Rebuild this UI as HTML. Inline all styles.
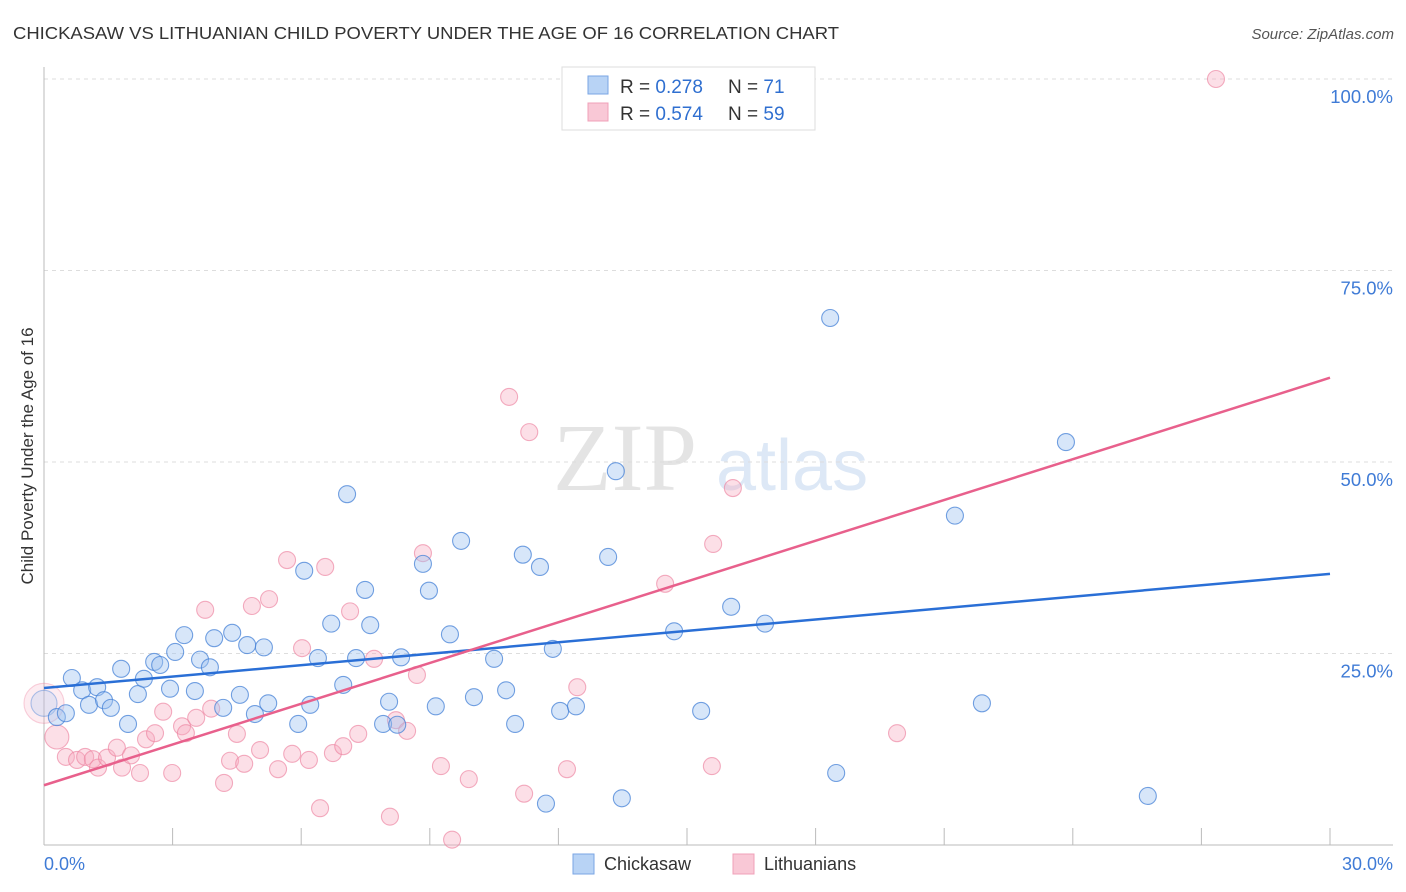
<!DOCTYPE html>
<html><head><meta charset="utf-8"><style>
body{margin:0;background:#fff;font-family:"Liberation Sans",sans-serif;}
svg{display:block}
</style></head><body>
<svg id="chart" width="1406" height="892" xmlns="http://www.w3.org/2000/svg" font-family="Liberation Sans, sans-serif">
<text x="13" y="39" font-size="17.5" fill="#333" textLength="826" lengthAdjust="spacingAndGlyphs">CHICKASAW VS LITHUANIAN CHILD POVERTY UNDER THE AGE OF 16 CORRELATION CHART</text>
<text x="1394" y="39" font-size="15" fill="#555" font-style="italic" text-anchor="end">Source: ZipAtlas.com</text>
<text x="553" y="490" font-size="96" font-family="Liberation Serif, serif" fill="#e4e4e4">ZIP</text>
<text x="716" y="490" font-size="72" fill="#dde8f6">atlas</text>
<text transform="translate(33,456) rotate(-90)" font-size="17" fill="#333" text-anchor="middle">Child Poverty Under the Age of 16</text>
<g id="grid"></g>
<g id="axes"></g>
<g id="pts"></g>
<g id="trends"></g>
<g>
<rect x="562" y="67" width="253" height="63" fill="#fff" stroke="#ddd"/>
<rect x="588" y="76" width="20" height="18" fill="#b8d3f5" stroke="#7aa6e4"/>
<rect x="588" y="103" width="20" height="18" fill="#f9c8d6" stroke="#f0a0b8"/>
<text x="620" y="93" font-size="19" fill="#333">R = <tspan fill="#2f6fd0">0.278</tspan></text>
<text x="728" y="93" font-size="19" fill="#333">N = <tspan fill="#2f6fd0"> 71</tspan></text>
<text x="620" y="120" font-size="19" fill="#333">R = <tspan fill="#2f6fd0">0.574</tspan></text>
<text x="728" y="120" font-size="19" fill="#333">N = <tspan fill="#2f6fd0">59</tspan></text>
</g>
<g>
<rect x="573" y="854" width="21" height="20" fill="#b8d3f5" stroke="#7aa6e4"/>
<text x="604" y="870" font-size="18" fill="#333">Chickasaw</text>
<rect x="733" y="854" width="21" height="20" fill="#f9c8d6" stroke="#f0a0b8"/>
<text x="764" y="870" font-size="18" fill="#333">Lithuanians</text>
</g>
</svg>
<script>
const yTicks=[25,50,75,100];
const yTickLabels=["25.0%","50.0%","75.0%","100.0%"];
const xTickCount=10;
const blueX=[0.0,0.30,0.51,0.65,0.89,1.05,1.24,1.40,1.56,1.80,1.96,2.19,2.33,2.57,2.71,2.94,3.06,3.27,3.52,3.64,3.87,3.97,4.18,4.39,4.57,4.74,4.92,5.13,5.23,5.93,6.07,6.21,6.39,6.70,6.98,7.07,7.28,7.49,7.61,7.91,8.05,8.24,8.33,8.84,8.98,9.14,9.47,9.73,10.03,10.50,10.78,10.99,11.17,11.57,11.71,11.87,12.04,12.41,13.16,13.34,13.48,14.70,15.33,16.03,16.82,18.34,18.48,21.25,21.88,23.84,25.75];
const blueY=[18.5,16.7,17.2,21.8,20.2,18.3,20.6,18.9,17.9,23.0,15.8,19.7,21.7,23.9,23.5,20.4,25.2,27.4,20.1,24.2,23.2,27.0,17.9,27.7,19.6,26.1,17.1,25.8,18.5,15.8,35.8,18.3,24.4,28.9,20.9,45.8,24.4,33.3,28.7,15.8,18.7,15.7,24.5,36.7,33.2,18.1,27.5,39.7,19.3,24.3,20.2,15.8,37.9,36.3,5.4,25.6,17.5,18.1,37.6,48.8,6.1,27.9,17.5,31.1,28.9,68.8,9.4,43.0,18.5,52.6,6.4];
const pinkX=[0,0.30,0.51,0.77,0.96,1.14,1.26,1.47,1.70,1.82,2.03,2.24,2.38,2.59,2.78,2.99,3.22,3.31,3.55,3.76,3.90,4.20,4.34,4.50,4.67,4.85,5.04,5.25,5.46,5.67,5.79,6.02,6.18,6.44,6.56,6.74,6.98,7.14,7.33,7.70,8.07,8.21,8.47,8.70,8.84,9.26,9.52,9.91,10.85,11.20,11.32,12.20,12.44,14.49,15.58,15.61,16.07,19.90,27.34];
const pinkY=[18.5,14.1,11.5,11.1,11.5,11.2,10.1,11.4,12.7,10.1,11.7,9.4,13.8,14.6,17.4,9.4,15.5,14.6,16.6,30.7,17.8,8.1,11.0,14.5,10.6,31.2,12.4,32.1,9.9,37.2,11.9,25.7,11.1,4.8,36.3,12.0,12.9,30.5,14.5,24.3,3.7,16.3,14.9,22.2,38.1,10.3,0.7,8.6,58.5,6.7,53.9,9.9,20.6,34.1,10.3,39.3,46.6,14.6,100];
const blueTrend=[20.5,35.4];
const pinkTrend=[7.8,61.0];
const xMax=30;
const X0=44,X1=1330,Y0=845,Y100=79;
const sx=v=>X0+(v/xMax)*(X1-X0);
const sy=v=>Y0-(v/100)*(Y0-Y100);
const NS="http://www.w3.org/2000/svg";
function mk(tag,attrs,parent){const e=document.createElementNS(NS,tag);for(const k in attrs)e.setAttribute(k,attrs[k]);parent.appendChild(e);return e;}
const grid=document.getElementById('grid'),axes=document.getElementById('axes'),pts=document.getElementById('pts'),tr=document.getElementById('trends');
yTicks.forEach((t,i)=>{
 const l=mk('line',{x1:X0,x2:1393,y1:sy(t),y2:sy(t),stroke:'#ddd','stroke-dasharray':'4,4'},grid);
 
 
 const tx=mk('text',{x:1393,y:sy(t)+24,'font-size':18.5,fill:'#3f7bd6','text-anchor':'end'},grid);
 tx.textContent=yTickLabels[i];
 
 
});
const ya=mk('line',{x1:X0,x2:X0,y1:67,y2:Y0,stroke:'#bbb'},axes);


const xa=mk('line',{x1:X0,x2:1393,y1:Y0,y2:Y0,stroke:'#bbb'},axes);


for(let i=1;i<=xTickCount;i++){
 const x=sx(i*xMax/xTickCount);
 const t=mk('line',{x1:x,x2:x,y1:828,y2:Y0,stroke:'#bbb'},axes);
 
 
}
const xl0=mk('text',{x:44,y:870,'font-size':18,fill:'#3f7bd6'},axes);xl0.textContent='0.0%';


const xl1=mk('text',{x:1393,y:870,'font-size':18,fill:'#3f7bd6','text-anchor':'end'},axes);xl1.textContent='30.0%';


function draw(xs,ys,fill,stroke,name){
 xs.forEach((v,i)=>{
  let r=8.5,op=1;
  if(i===0){r=name==='pink-point'?20:13;op=0.6;} else if(i===1&&name==='pink-point')r=12;
  const c=mk('circle',{cx:sx(v),cy:sy(ys[i]),r:r,fill:fill,stroke:stroke,'stroke-width':1.1,opacity:op},pts);
  
  
 });
}
draw(pinkX,pinkY,'rgba(246,170,192,0.38)','rgba(236,130,160,0.65)','pink-point');
draw(blueX,blueY,'rgba(160,195,240,0.42)','rgba(70,130,215,0.75)','blue-point');
const bl=mk('line',{x1:sx(0),y1:sy(blueTrend[0]),x2:sx(xMax),y2:sy(blueTrend[1]),stroke:'#2a6fd6','stroke-width':2.5},tr);


const pl=mk('line',{x1:sx(0),y1:sy(pinkTrend[0]),x2:sx(xMax),y2:sy(pinkTrend[1]),stroke:'#e8608c','stroke-width':2.5},tr);


</script>
</body></html>
